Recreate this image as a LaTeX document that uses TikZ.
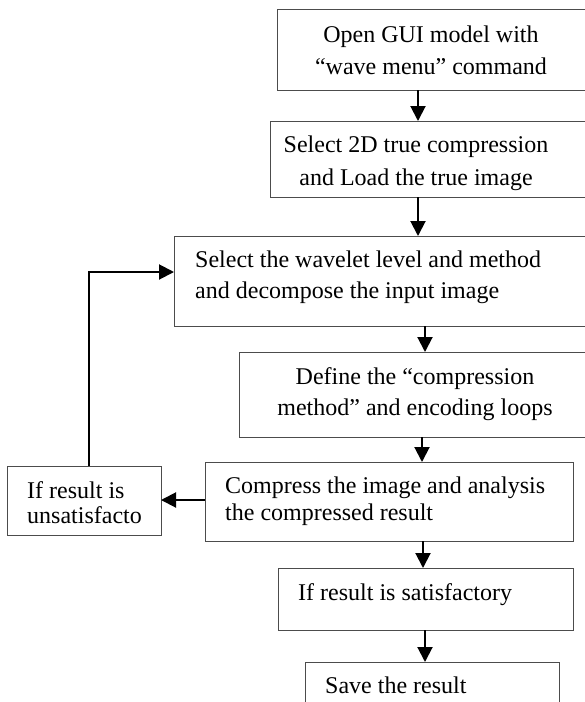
\documentclass[tikz,border=0pt]{standalone}
\usepackage{fontspec}
\setmainfont{Liberation Serif}
\usetikzlibrary{arrows.meta}
\begin{document}
\begin{tikzpicture}[x=1pt,y=-1pt,
  stepbox/.style={draw=black!70,line width=0.9pt,rectangle,inner sep=0pt,outer sep=0pt},
  txt/.style={inner sep=0pt,font=\fontsize{24}{30}\selectfont},
  lft/.style={txt,anchor=base west},
  mid/.style={txt,anchor=base},
  flow/.style={line width=2pt,-{Triangle[length=15pt,width=15pt]}}]
\useasboundingbox (0,0) rectangle (585,702);
\begin{scope}
\clip (0,0) rectangle (585,702);
% boxes of the flow
\node[stepbox,minimum width=318pt,minimum height=81pt] (b1) at (436,49.5) {};
\node[stepbox,minimum width=325pt,minimum height=76pt] (b2) at (432.5,159) {};
\node[stepbox,minimum width=421pt,minimum height=90pt] (b3) at (384.5,281) {};
\node[stepbox,minimum width=356pt,minimum height=85pt] (b4) at (417,394.5) {};
\node[stepbox,minimum width=368pt,minimum height=79pt] (b5) at (389,501.5) {};
\node[stepbox,minimum width=295pt,minimum height=62pt] (b6) at (425.5,599) {};
\node[stepbox,minimum width=254pt,minimum height=58pt] (b7) at (432,691) {};
\node[stepbox,minimum width=154pt,minimum height=69pt] (bif) at (84,500.5) {};
\end{scope}
% texts
\node[mid] (t1a) at (431,42.5) {Open GUI model with};
\node[mid] (t1b) at (431,74) {“wave menu” command};
\node[mid] (t2a) at (416,152.5) {Select 2D true compression};
\node[mid] (t2b) at (416,185) {and Load the true image};
\node[lft] (t3a) at (195,267) {Select the wavelet level and method};
\node[lft] (t3b) at (195,298) {and decompose the input image};
\node[mid] (t4a) at (415,384) {Define the “compression};
\node[mid] (t4b) at (415,415) {method” and encoding loops};
\node[lft] (t5a) at (225,493) {Compress the image and analysis};
\node[lft] (t5b) at (225,520) {the compressed result};
\node[lft] (t6) at (298,600) {If result is satisfactory};
\node[lft] (t7) at (325,693) {Save the result};
\node[lft] (tia) at (27,498) {If result is};
\node[lft] (tib) at (27,523) {unsatisfacto};
% connectors
\coordinate (xa) at (418,0);
\coordinate (xb) at (425,0);
\coordinate (xc) at (422,0);
\coordinate (xd) at (423,0);
\coordinate (xl) at (89,0);
\coordinate (yl) at (0,272);
\coordinate (ym) at (0,500);
\draw[flow] (b1.south -| xa) -- (b2.north -| xa);
\draw[flow] (b2.south -| xa) -- (b3.north -| xa);
\draw[flow] (b3.south -| xb) -- (b4.north -| xb);
\draw[flow] (b4.south -| xc) -- (b5.north -| xc);
\draw[flow] (b5.south -| xd) -- (b6.north -| xd);
\draw[flow] (b6.south -| xb) -- (b7.north -| xb);
\draw[flow] (b5.west |- ym) -- (bif.east |- ym);
\draw[flow,line cap=butt] (bif.north -| xl) -- (xl |- yl) -- (b3.west |- yl);
\end{tikzpicture}
\end{document}
